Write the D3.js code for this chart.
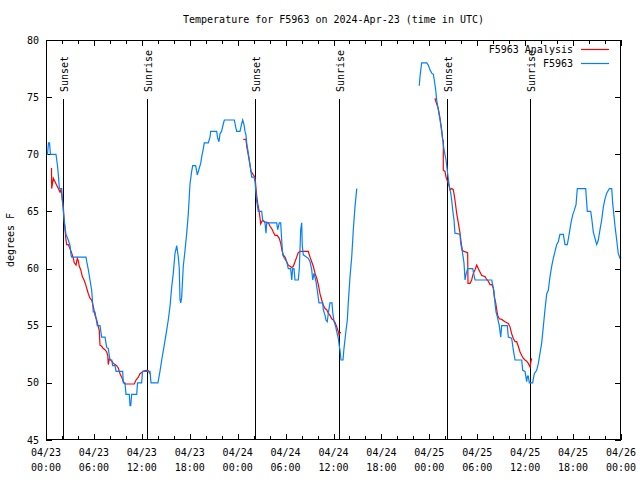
<!DOCTYPE html>
<html><head><meta charset="utf-8">
<script src="https://cdn.jsdelivr.net/npm/d3@7"></script>
<style>body{margin:0;background:#fff}svg{display:block}text{font-family:"DejaVu Sans Mono","Liberation Mono",monospace;font-size:10px;fill:#000}</style>
</head><body><svg id="c" width="640" height="480"></svg>
<script>
// hours since 2024-04-23 00:00 UTC, temperatures in degrees F
const obsHours1 = [0,0.19,0.31,0.44,0.56,1.25,1.44,1.57,1.67,1.97,2.04,2.17,2.32,2.50,2.79,3.01,3.13,3.22,5.01,5.10,5.30,5.51,5.72,5.92,6.14,6.42,6.76,6.97,7.39,7.60,7.80,8.01,8.23,8.35,8.64,8.77,9.60,9.68,9.89,10.02,10.43,10.52,10.61,10.73,11.36,11.46,11.98,12.08,13.02,13.15,14.02,14.27,14.49,14.78,15.11,15.31,15.53,15.74,15.94,16.15,16.37,16.57,16.69,16.78,16.87,16.99,17.19,17.41,17.62,17.82,18.03,18.24,18.37,18.74,18.95,19.20,19.37,19.50,19.70,19.82,20.32,20.54,20.62,21.37,21.50,21.66,21.79,21.98,22.20,22.33,23.58,23.75,23.88,24.29,24.51,24.63,24.79,24.92,25.04,25.13,25.33,25.54,25.76,26.05,26.17,26.30,26.38,26.58,27.01,27.13,27.42,27.55,27.64,28.89,29.01,29.21,29.39,29.51,29.64,29.84,30.14,30.34,30.64,30.77,30.89,31.05,31.18,31.59,31.72,31.89,32.02,32.09,32.22,32.84,33.06,33.27,33.40,33.56,33.81,33.97,34.18,34.65,34.72,34.94,35.06,35.22,35.37,35.56,35.81,35.90,36.06,36.28,36.40,36.60,36.73,36.81,36.94,37.19,37.31,37.57,37.73,37.85,38.07,38.28,38.48,38.69,38.91];
const obsTemps1 = [70,70,71,71,70,70,69,68,67,67,66,65,64,63,62.5,62,61.2,61,61,60.6,59.9,59,58.1,56.2,56.2,55,55,54,54,53.1,53,52,52,51.5,51.5,51,51,50,50,49,49,48,48,49,49,50,50,51,51,50,50,51,52,53.2,54.6,55.5,56.7,58.4,59.6,61.3,62,61,60,57.3,57,57.5,60.2,61.6,63.1,64.8,67.4,68.5,69,69,68.2,68.8,69.2,69.8,70.5,71,71,71.5,72,72,71.4,71.1,71.8,72,72.65,73,73,72.4,72,72,72.7,73,72.6,72,71.7,71,70.1,69.1,68,68,67.6,66.6,65.9,65,65,64.25,64,63.1,64,64,63.4,64,64,62.5,61.2,60.9,60.6,60,60,59,60,60,59,59,60,63.4,64,62,61.2,60.9,60.6,59.9,59,59.6,58.85,58.1,57,57,56.4,55.9,55.5,55.35,56.2,57,57,56.2,55.4,54.9,54.5,53.9,53.2,52.9,52,52,53,54.6,55.5,57,59.3,61,63.4,65.4,67];
const obsHours2 = [46.74,46.83,47.04,47.67,47.87,48.08,48.30,48.50,48.62,48.80,48.92,49.12,49.34,49.55,49.67,49.84,50.09,50.30,50.50,50.68,50.80,50.93,51.09,51.21,51.84,51.93,52.13,52.34,52.47,52.59,52.80,53.43,53.72,55.81,55.93,56.10,56.22,56.35,56.51,56.76,56.94,57.06,57.76,57.89,58.31,58.51,58.73,59.57,59.69,59.98,60.19,60.29,60.39,60.52,60.94,61.14,61.44,61.65,61.86,62.07,62.27,62.48,62.70,62.90,63.11,63.32,63.52,63.74,63.95,64.15,64.36,64.78,64.99,65.28,65.53,65.74,65.95,66.11,66.37,66.53,67.58,67.71,67.78,68.21,68.33,68.53,68.74,68.96,69.16,69.37,69.58,69.79,70.00,70.21,70.54,70.84,70.96,71.25,71.46,71.66,71.88,72.00];
const obsTemps2 = [76,76.8,78,78,77.8,77.4,77.1,77,76.5,75.6,74.75,73.9,73,72,71.3,70.4,69.5,68.3,67.2,66.6,66,65.1,64.25,63.1,63,62.2,61.5,60.5,59,59.5,60,60,59,59,58.6,58,57,56.2,55.8,55,54,55,55,54,53.9,52.9,52,52,51.1,51,50.1,50.6,50.6,50,50,50.8,51.1,51.7,52.6,53.5,54.9,56.4,57.8,58.1,59.3,60.2,60.9,61.5,62.1,62.35,63,63,62.1,62.1,63.1,64,64.7,65,65.6,67,67,65.7,65,65,64.4,63.2,62.65,62.1,62.5,63.4,64.25,65.4,66.1,66.6,67,67,65.7,63.7,62.5,61.3,60.9,61];

const anaHours1 = [0.69,0.71,0.91,1.13,1.34,1.54,1.75,1.88,2.00,2.17,2.25,2.38,2.50,2.59,2.79,3.09,3.29,3.42,3.54,3.76,3.92,4.04,4.17,4.35,4.55,4.76,4.97,5.17,5.30,5.51,5.72,5.92,6.14,6.35,6.55,6.67,6.76,6.97,7.17,7.39,7.60,7.73,7.80,7.93,8.10,8.23,8.43,8.64,8.85,9.05,9.27,9.48,9.68,9.89,11.06,11.27,11.56,11.77,11.98,12.27,12.61,12.81,13.02];
const anaTemps1 = [68.8,67,67.9,67.6,67.3,67,66.7,66.9,66.3,65.4,64.4,63.4,62.5,62.1,62.1,61.6,61.2,60.9,60.5,60.3,60.9,60.7,60.2,59.9,59.3,59,58.6,58.1,57.8,57.4,57.25,56.7,55.9,55.5,54.9,54.6,53.3,53.2,53.0,52.9,52.7,52.4,51.6,52.1,52,51.9,51.7,51.6,51.5,51.3,50.8,50.5,50.1,49.9,49.9,50.25,50.5,50.8,50.9,51.05,51.1,51.05,50.8];
const anaHours2 = [24.71,25.04,25.13,25.26,25.42,25.54,25.67,25.96,26.17,26.30,26.38,26.51,26.67,26.80,26.88,27.09,27.42,27.84,28.05,28.26,28.46,28.68,28.96,29.21,29.39,29.55,29.71,29.93,30.14,30.34,30.55,30.77,30.97,31.18,31.39,31.59,31.81,32.84,33.06,33.27,33.47,33.68,33.90,34.10,34.31,34.52,34.72,34.94,35.15,35.35,35.56,35.78,35.98,36.19,36.40,36.60,36.69,36.81,36.94];
const anaTemps2 = [71.3,71.3,70.7,70.2,69.6,69.1,68.5,68.2,68,67,66.4,65.7,65.1,64.4,63.9,64.2,64.1,64,63.7,63.5,63.2,62.9,62.9,62.65,62.2,61.6,61.2,61,60.6,60.3,60.2,60.1,60.2,60.6,61,61.4,61.5,61.5,61,60.6,60.2,59.6,59.15,58.6,57.8,57.25,56.8,56.5,56.4,56.1,55.9,55.6,55.5,55.3,54.9,54.5,54.2,54.4,54.4];
const anaHours3 = [48.71,48.83,49.12,49.34,49.55,49.67,49.75,49.75,49.96,50.09,50.30,50.50,50.59,50.80,51.00,51.21,51.43,51.63,51.84,51.97,52.13,52.34,52.80,52.84,53.09,53.30,53.51,53.72,53.93,54.13,54.34,54.56,54.76,54.97,55.18,55.38,55.60,55.81,56.01,56.14,56.31,56.44,56.56,56.76,57.06,57.47,57.89,58.10,58.31,58.51,58.73,58.94,59.14,59.36,59.57,59.77,59.98,60.19,60.39,60.61,60.73,60.82];
const anaTemps3 = [74.9,74.6,74,73.15,72.1,71.25,71.2,68.6,68.5,68,67.6,67.2,66.9,67,66.9,66,64.8,64,63.1,62.35,61.6,61.5,61.4,58.7,58.7,59,59.6,59.9,60.3,60,59.7,59.4,59.35,59.3,59.05,58.9,58.6,58.6,58.3,57.5,57,56.4,55.9,55.6,55.55,55.35,55.2,54.9,54.3,53.9,53.6,53.6,53.2,52.7,52.4,52.15,52,51.9,51.7,51.4,51.9,52.15];

const sunEventHours = [2.13,12.65,26.17,36.69,50.21,60.65];
const sunEventNames = ["Sunset","Sunrise","Sunset","Sunrise","Sunset","Sunrise"];
const yTickValues = [45,50,55,60,65,70,75,80];
const seriesNames = ["F5963 Analysis","F5963"];
const seriesColors = ["#ff0000","#0080ff"];
const titleText = "Temperature for F5963 on 2024-Apr-23 (time in UTC)";
const yLabelText = "degrees F";

const t0 = Date.UTC(2024,3,23);
const toDate = h => new Date(t0 + h*3600e3);

const svg = d3.select("#c");
const L=46, R=621, T=40, B=440;
const x = d3.scaleUtc().domain([toDate(0), toDate(72)]).range([L,R]);
const y = d3.scaleLinear().domain([45,80]).range([B,T]);

// title & y label
svg.append("text").attr("x",(L+R)/2).attr("y",23).attr("text-anchor","middle").text(titleText);
svg.append("text").attr("transform",`translate(14,${(T+B)/2}) rotate(-90)`).attr("text-anchor","middle").text(yLabelText);

// axes ticks (inward, mirrored)
const majors = d3.utcHour.every(6).range(toDate(0), toDate(72.01));
const minors = d3.utcHour.every(2).range(toDate(0), toDate(72.01));
const g = svg.append("g").attr("stroke","#000").attr("shape-rendering","crispEdges");
minors.forEach(d=>{const xx=Math.round(x(d))+0.5;
  g.append("line").attr("x1",xx).attr("x2",xx).attr("y1",B).attr("y2",B-4);
  g.append("line").attr("x1",xx).attr("x2",xx).attr("y1",T).attr("y2",T+4);});
majors.forEach(d=>{const xx=Math.round(x(d))+0.5;
  g.append("line").attr("x1",xx).attr("x2",xx).attr("y1",B).attr("y2",B-6);
  g.append("line").attr("x1",xx).attr("x2",xx).attr("y1",T).attr("y2",T+6);});
yTickValues.forEach(v=>{const yy=Math.round(y(v))+0.5;
  g.append("line").attr("x1",L).attr("x2",L+6).attr("y1",yy).attr("y2",yy);
  g.append("line").attr("x1",R).attr("x2",R-6).attr("y1",yy).attr("y2",yy);});

// tick labels
const fD = d3.utcFormat("%m/%d"), fT = d3.utcFormat("%H:%M");
majors.forEach(d=>{
  const t = svg.append("text").attr("text-anchor","middle").attr("x",x(d));
  t.append("tspan").attr("x",x(d)).attr("y",456).text(fD(d));
  t.append("tspan").attr("x",x(d)).attr("y",471).text(fT(d));
});
yTickValues.forEach(v=>svg.append("text").attr("x",39).attr("y",y(v)).attr("dy","0.35em").attr("text-anchor","end").text(v));

// sunrise / sunset
sunEventHours.forEach((h,i)=>{
  const xx = Math.round(x(toDate(h)))+0.5;
  svg.append("line").attr("x1",xx).attr("x2",xx).attr("y1",99).attr("y2",B).attr("stroke","#000").attr("shape-rendering","crispEdges");
  svg.append("text").attr("transform",`translate(${xx+4},92) rotate(-90)`).attr("text-anchor","start").text(sunEventNames[i]);
});

// series
const line = d3.line().x(d=>x(toDate(d[0]))).y(d=>y(d[1]));
const zip = (a,b)=>a.map((v,i)=>[v,b[i]]);
const plotG = svg.append("g");
[[anaHours1,anaTemps1],[anaHours2,anaTemps2],[anaHours3,anaTemps3]].forEach(([h,t])=>
  plotG.append("path").attr("d",line(zip(h,t))).attr("fill","none").attr("stroke",seriesColors[0]).attr("stroke-width",1.2));
[[obsHours1,obsTemps1],[obsHours2,obsTemps2]].forEach(([h,t])=>
  plotG.append("path").attr("d",line(zip(h,t))).attr("fill","none").attr("stroke",seriesColors[1]).attr("stroke-width",1.2));

// legend
seriesNames.forEach((n,i)=>{
  const yy = 49.5 + i*14;
  svg.append("text").attr("x",573).attr("y",yy).attr("dy","0.35em").attr("text-anchor","end").text(n);
  svg.append("line").attr("x1",581).attr("x2",609).attr("y1",yy).attr("y2",yy).attr("stroke",seriesColors[i]).attr("stroke-width",1.2);
});

// frame
svg.append("rect").attr("x",L+0.5).attr("y",T+0.5).attr("width",R-L-1).attr("height",B-T-1).attr("fill","none").attr("stroke","#000").attr("shape-rendering","crispEdges");
</script></body></html>
